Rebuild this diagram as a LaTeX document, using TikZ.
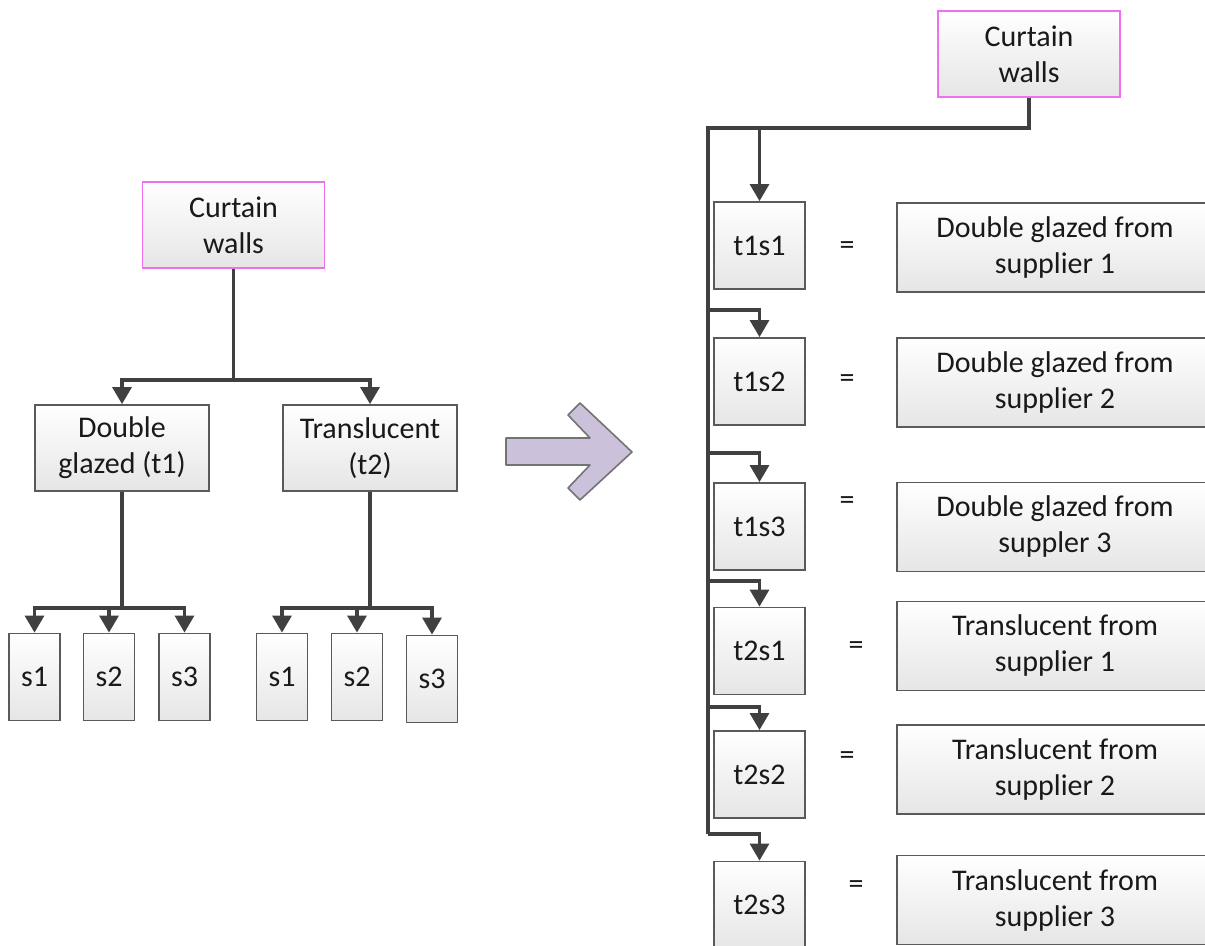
\documentclass[tikz,border=0pt]{standalone}
\usepackage{fontspec}
\setmainfont{Carlito}
\usepackage{tikz}
\usetikzlibrary{arrows.meta,positioning,calc}
\definecolor{wallpink}{RGB}{240,110,240}
\definecolor{boxgrey}{RGB}{90,90,90}
\definecolor{linegrey}{RGB}{64,64,64}
\definecolor{arrowlilac}{RGB}{204,193,218}

\begin{document}
\begin{tikzpicture}[x=0.5pt,y=-0.5pt,
  box/.style={draw=boxgrey, line width=0.9pt, top color=white, bottom color=black!10, align=center, inner sep=0pt, font=\fontsize{15}{18}\selectfont, text=black!90},
  wallbox/.style={box, draw=wallpink, minimum width=91pt, minimum height=43pt},
  typebox/.style={box, minimum width=87pt, minimum height=43pt},
  sbox/.style={box, minimum width=25.5pt, minimum height=43.5pt},
  tbox/.style={box, minimum width=45.5pt, minimum height=43.5pt},
  descbox/.style={box, minimum width=158pt, minimum height=44.5pt},
  eqsign/.style={font=\fontsize{15}{18}\selectfont, text=black!90, inner sep=0pt},
  conn/.style={draw=linegrey, line width=1.6pt},
  arr/.style={conn, -{Triangle[width=9.5pt,length=8.5pt]}}]
  \useasboundingbox (0,0) rectangle (1205,946);

  % left tree
  \node[wallbox] (cwL) at (233.5,225) {Curtain\\walls};
  \node[typebox] (t1) at (122,448) {Double\\glazed (t1)};
  \node[typebox] (t2) at (370,448) {Translucent\\(t2)};
  \foreach \j/\x/\y in {1/34.5/677, 2/109/677, 3/184.5/677}
    \node[sbox] (a\j) at (\x,\y) {s\j};
  \foreach \j/\x/\y in {1/282/677, 2/357/677, 3/432/679}
    \node[sbox] (b\j) at (\x,\y) {s\j};

  \coordinate (jL) at (233.5,380);
  \draw[arr] (cwL.south) -- (jL) -| (t1.north);
  \draw[arr] (jL) -| (t2.north);
  \coordinate (j1) at (122,608);
  \coordinate (j2) at (370,608);
  \foreach \j in {1,2,3}{
    \draw[arr] (t1.south) -- (j1) -| (a\j.north);
    \draw[arr] (t2.south) -- (j2) -| (b\j.north);
  }

  % big arrow
  \draw[draw=black!55, line width=0.8pt, fill=arrowlilac, line join=round]
    (506,438) -- (590,438) -- (568,415) -- (580,403) -- (632,452)
    -- (580,500) -- (568,488) -- (590,465) -- (506,465) -- cycle;

  % right list
  \node[wallbox] (cwR) at (1029,54) {Curtain\\walls};
  \foreach \n/\y in {t1s1/245.5, t1s2/381.5, t1s3/526.5, t2s1/651, t2s2/774.5, t2s3/905}
    \node[tbox] (\n) at (759.5,\y) {\n};
  \foreach \k/\y/\txt in {%
    1/247.5/{Double glazed from\\supplier 1},%
    2/382.5/{Double glazed from\\supplier 2},%
    3/527/{Double glazed from\\suppler 3},%
    4/646/{Translucent from\\supplier 1},%
    5/769.5/{Translucent from\\supplier 2},%
    6/900/{Translucent from\\supplier 3}%
  }
    \node[descbox] (d\k) at (1055,\y) {\txt};
  \foreach \k/\x/\y in {1/847/248, 2/847/381, 3/847/503, 4/856/648, 5/847/758, 6/856/887}
    \node[eqsign] (e\k) at (\x,\y) {=};

  \coordinate (top) at (708,128);
  \coordinate (bot) at (708,834);
  \draw[conn] (cwR.south) |- (top) -- (bot);
  \draw[arr] (t1s1.north |- top) -- (t1s1.north);
  \foreach \n/\y in {t1s2/310, t1s3/453, t2s1/581, t2s2/707, t2s3/834}{
    \coordinate (br\n) at (708,\y);
    \draw[arr] (br\n) -| (\n.north);
  }
\end{tikzpicture}
\end{document}
